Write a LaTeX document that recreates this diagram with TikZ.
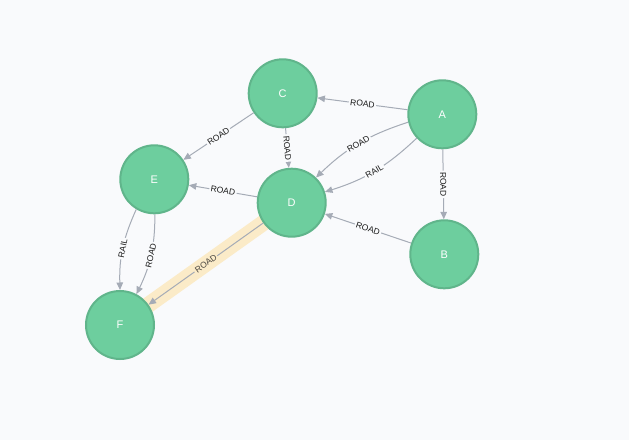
\documentclass[tikz,border=0pt]{standalone}
\usepackage{fontspec}
\setmainfont{Liberation Sans}
\usetikzlibrary{arrows.meta,backgrounds}
\definecolor{bgc}{HTML}{F9FAFC}
\definecolor{nodefill}{HTML}{6DCE9E}
\definecolor{nodeborder}{HTML}{60B58B}
\definecolor{edgec}{HTML}{A5ABB6}
\definecolor{hilite}{HTML}{FBEBC8}
\definecolor{hltext}{HTML}{4A4640}
\tikzset{
  gnode/.style={circle,fill=nodefill,draw=nodeborder,line width=2pt,minimum size=68pt,inner sep=0pt,text=white,font=\fontsize{11}{11}\selectfont},
  edge/.style={draw=edgec,line width=1pt,-{Triangle[length=7.5pt,width=6.5pt]}},
  lbl/.style={sloped,fill=bgc,inner sep=1.5pt,text=black!90,font=\fontsize{8.5}{8.5}\selectfont},
  hllbl/.style={lbl,fill=hilite,text=hltext},
}
\begin{document}
\begin{tikzpicture}[x=1pt,y=-1pt]
\begin{pgfonlayer}{background}
\fill[bgc] (0,0) rectangle (629,440);
\end{pgfonlayer}
\useasboundingbox (0,0) rectangle (629,440);
\node[gnode] (C) at (282.7,93.3) {C};
\node[gnode] (A) at (442.3,114.3) {A};
\node[gnode] (E) at (154.3,179.3) {E};
\node[gnode] (D) at (291.7,202.7) {D};
\node[gnode] (B) at (444.3,254.3) {B};
\node[gnode] (F) at (120,325) {F};
\begin{pgfonlayer}{background}
\draw[hilite,line width=16pt] (D.center) -- (F.center);
\end{pgfonlayer}
\draw[edge] (A) -- node[lbl]{ROAD} (C);
\draw[edge] (A) -- node[lbl]{ROAD} (B);
\draw[edge] (A.193) to[bend right=13] node[lbl]{ROAD} (D.46);
\draw[edge] (A.223) to[bend left=13] node[lbl]{RAIL} (D.18);
\draw[edge] (C) -- node[lbl]{ROAD} (D);
\draw[edge] (C) -- node[lbl]{ROAD} (E);
\draw[edge] (D) -- node[lbl]{ROAD} (E);
\draw[edge] (B) -- node[lbl]{ROAD} (D);
\draw[edge] (E.239) to[bend right=13] node[lbl]{RAIL} (F.90);
\draw[edge] (E.271) to[bend left=13] node[lbl]{ROAD} (F.62);
\draw[edge] (D) -- node[hllbl]{ROAD} (F);
\end{tikzpicture}
\end{document}
